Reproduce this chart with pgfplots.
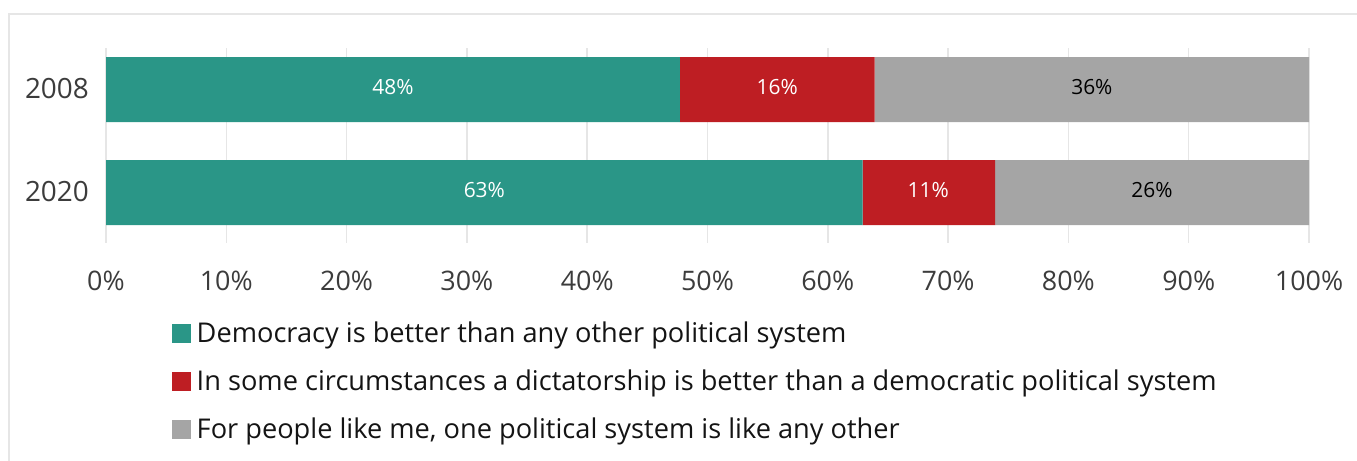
\documentclass[border=0pt]{standalone}
\usepackage{pgfplots}
\pgfplotsset{compat=1.18}
\usepackage{pgfplotstable}
\usepackage{fontspec}
\setmainfont{Open Sans}
\definecolor{cdem}{HTML}{2A9687}
\definecolor{cdic}{HTML}{BE1E23}
\definecolor{cind}{HTML}{A5A5A5}
\definecolor{cgrid}{HTML}{E6E6E6}
\definecolor{ctick}{HTML}{3C3C3C}
\definecolor{ctext}{HTML}{141414}

% stacked shares (percent)
\pgfplotstableread{
y dem dic ind
1 47.7 16.2 36.1
0 62.9 11.0 26.1
}\data

% labels placed at the middle of each segment
\pgfplotstableread{
x y lab
23.85 1 48
55.80 1 16
31.45 0 63
68.35 0 11
}\whitelabels
\pgfplotstableread{
x y lab
81.95 1 36
86.95 0 26
}\blacklabels

\begin{document}
\begin{tikzpicture}
\draw[cgrid, line width=2bp] (9bp,0bp) -- (9bp,447bp) -- (1357bp,447bp);
\pgfplotsset{
  common/.style={
    at={(106bp,218bp)}, anchor=south west,
    scale only axis, width=1203bp, height=195bp,
    xmin=0, xmax=100, ymin=-0.49, ymax=1.403,
  }
}
\begin{axis}[
  common,
  xbar stacked, bar width=65bp,
  xtick={0,10,...,100},
  xticklabels={0\%,10\%,20\%,30\%,40\%,50\%,60\%,70\%,80\%,90\%,100\%},
  ytick={0,1}, yticklabels={2020,2008},
  xmajorgrids, major grid style={cgrid, line width=1.5bp},
  axis line style={draw=none}, tick style={draw=none},
  xticklabel style={anchor=base, yshift=-47bp, font=\fontsize{27}{27}\selectfont, text=ctick},
  yticklabel style={anchor=base east, inner sep=0pt, xshift=-17bp, yshift=-9bp, font=\fontsize{28}{28}\selectfont, text=ctick},
  legend style={at={(rel axis cs:0.0549,-0.4154)}, anchor=north west, draw=none, fill=none, inner sep=0pt,
    font=\fontsize{27.3}{27.3}\selectfont, text=ctext, row sep=24.5bp,
    nodes={inner sep=0pt, text height=18bp, text depth=5bp, anchor=base west}},
  legend cell align=left,
  legend image code/.code={\fill[#1] (0bp,0bp) rectangle (18.5bp,18.5bp); \path (24.5bp,0bp);},
]
\addplot[fill=cdem, draw=none] table[x=dem, y=y]{\data};
\addplot[fill=cdic, draw=none] table[x=dic, y=y]{\data};
\addplot[fill=cind, draw=none] table[x=ind, y=y]{\data};
\legend{Democracy is better than any other political system,
  In some circumstances a dictatorship is better than a democratic political system,
  {For people like me, one political system is like any other}}
\end{axis}
\begin{axis}[
  common, hide axis, clip=false,
  point meta=explicit symbolic,
  nodes near coords={\pgfplotspointmeta\%},
  every node near coord/.style={anchor=center, yshift=2bp, font=\fontsize{21}{21}\selectfont},
]
\addplot[draw=none, mark=none, nodes near coords style={text=white}] table[x=x, y=y, meta=lab]{\whitelabels};
\addplot[draw=none, mark=none, nodes near coords style={text=black}] table[x=x, y=y, meta=lab]{\blacklabels};
\end{axis}
\pgfresetboundingbox
\useasboundingbox (0,0) rectangle (1357bp,461bp);
\end{tikzpicture}
\end{document}
